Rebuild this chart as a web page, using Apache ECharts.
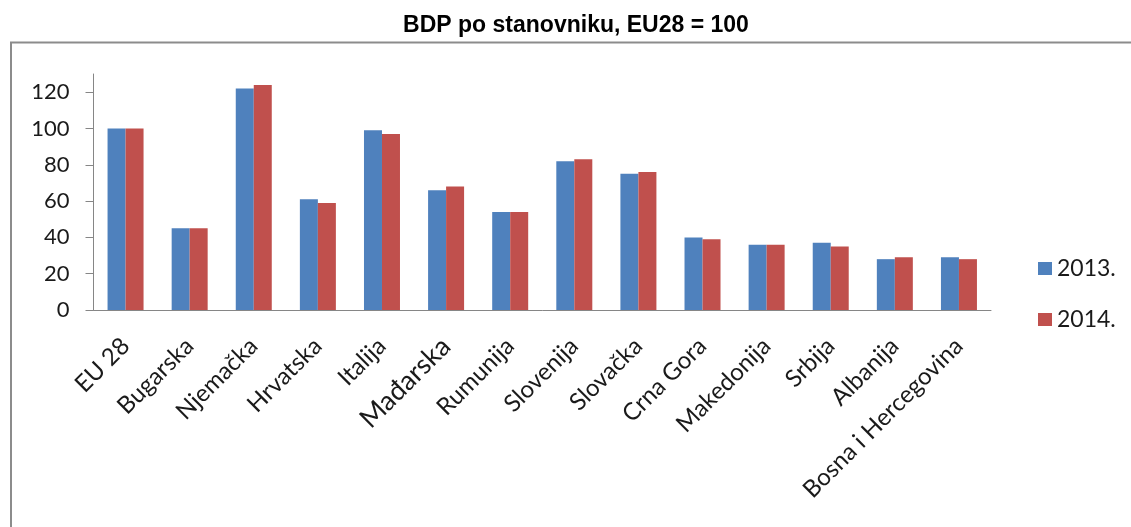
<!DOCTYPE html>
<html>
<head>
<meta charset="utf-8">
<script src="https://cdn.jsdelivr.net/npm/echarts@6/dist/echarts.min.js"></script>
<style>
  html, body { margin: 0; padding: 0; background: #fff; }
  #chart { width: 1131px; height: 527px; }
</style>
</head>
<body>
<div id="chart"></div>
<script>
// BDP po stanovniku (EU28 = 100)
const countries = ['EU 28', 'Bugarska', 'Njemačka', 'Hrvatska', 'Italija', 'Mađarska', 'Rumunija',
  'Slovenija', 'Slovačka', 'Crna Gora', 'Makedonija', 'Srbija', 'Albanija', 'Bosna i Hercegovina']
const gdp2013 = [100, 45, 122, 61, 99, 66, 54, 82, 75, 40, 36, 37, 28, 29]
const gdp2014 = [100, 45, 124, 59, 97, 68, 54, 83, 76, 39, 36, 35, 29, 28]
const yTicks = [0, 20, 40, 60, 80, 100, 120]

const labelFont = 'Lato, "Open Sans", sans-serif'
const axisGray = '#868686'

const chart = echarts.init(document.getElementById('chart'))

chart.setOption({
  animation: false,
  title: {
    text: 'BDP po stanovniku, EU28 = 100',
    left: 571,
    textAlign: 'center',
    top: 9,
    textStyle: { fontFamily: '"Liberation Sans", Arial, sans-serif', fontWeight: 'bold', fontSize: 23, color: '#000' },
  },
  graphic: [{
    type: 'rect',
    shape: { x: 11, y: 42.5, width: 1300, height: 700 },
    style: { fill: 'none', stroke: '#8c8c8c', lineWidth: 2 },
    silent: true,
  }],
  legend: {
    orient: 'vertical',
    left: 1033,
    top: 252,
    itemWidth: 14,
    itemHeight: 13,
    itemGap: 28,
    icon: 'rect',
    data: ['2013.', '2014.'],
    textStyle: { fontFamily: labelFont, fontSize: 23, lineHeight: 22, color: '#1a1a1a' },
  },
  grid: { left: 93.5, right: 140, top: 74, bottom: 217, containLabel: false },
  xAxis: {
    type: 'category',
    data: countries.map(c => c === 'Mađarska' ? { value: c, textStyle: { fontSize: 27 } } : c),
    axisLine: { lineStyle: { color: axisGray, width: 1 } },
    axisTick: { length: 7, lineStyle: { color: axisGray } },
    axisLabel: {
      interval: 0,
      rotate: 45,
      margin: 32,
      fontFamily: labelFont,
      fontSize: 24,
      color: '#1a1a1a',
    },
  },
  yAxis: {
    type: 'value',
    min: 0,
    max: 130,
    interval: 20,
    axisLine: { show: true, lineStyle: { color: axisGray, width: 1 } },
    axisTick: { show: true, length: 8, customValues: yTicks, lineStyle: { color: axisGray } },
    axisLabel: { margin: 24, customValues: yTicks, fontFamily: labelFont, fontSize: 22, color: '#1a1a1a' },
    splitLine: { show: false },
  },
  series: [
    {
      name: '2013.',
      type: 'bar',
      data: gdp2013,
      barWidth: 18,
      barGap: '0%',
      itemStyle: { color: '#4F81BD' },
    },
    {
      name: '2014.',
      type: 'bar',
      data: gdp2014,
      barWidth: 18,
      barGap: '0%',
      itemStyle: { color: '#C0504D' },
    },
  ],
})
</script>
</body>
</html>
